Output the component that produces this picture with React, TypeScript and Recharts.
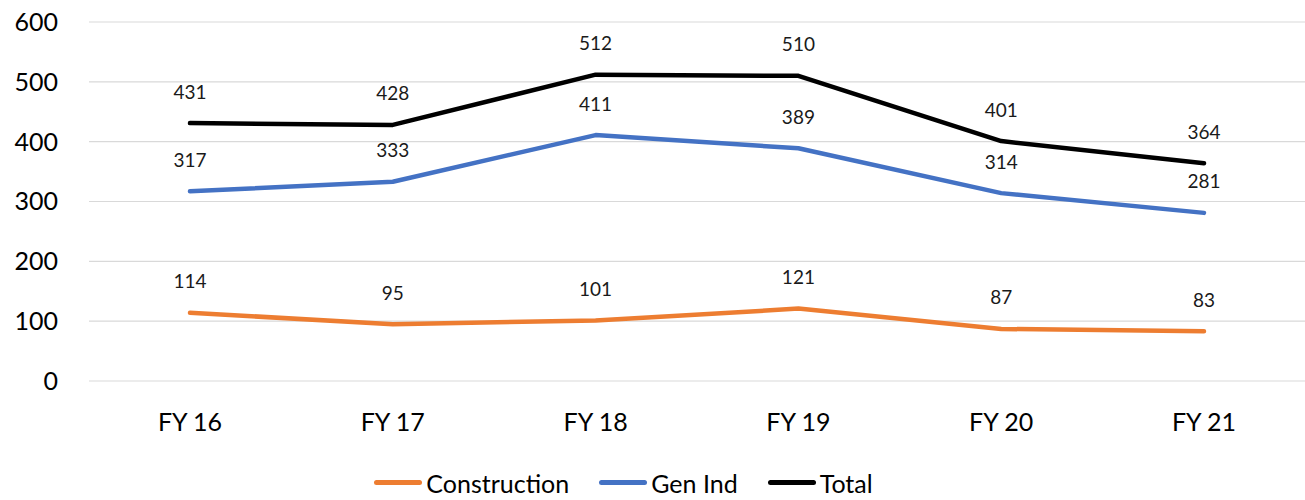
import { LineChart, Line, XAxis, YAxis, CartesianGrid, Legend, LabelList } from 'recharts';

const categories = ['FY 16', 'FY 17', 'FY 18', 'FY 19', 'FY 20', 'FY 21'];
const construction = [114, 95, 101, 121, 87, 83];
const genInd = [317, 333, 411, 389, 314, 281];
const total = [431, 428, 512, 510, 401, 364];
const yTicks = [0, 100, 200, 300, 400, 500, 600];

const SERIES = [
  { key: 'construction', name: 'Construction', color: '#ED7D31' },
  { key: 'genInd', name: 'Gen Ind', color: '#4472C4' },
  { key: 'total', name: 'Total', color: '#000000' },
];

const FONT = 'Lato, "Open Sans", sans-serif';

const data = categories.map((cat, i) => ({
  cat,
  construction: construction[i],
  genInd: genInd[i],
  total: total[i],
}));

// value label sitting above each point
const renderLabel = (props: any) => {
  const { x, y, value } = props;
  return (
    <text
      x={x}
      y={y - 32}
      textAnchor="middle"
      dominantBaseline="central"
      fontSize={19}
      fontFamily={FONT}
      fill="#1a1a1a"
    >
      {value}
    </text>
  );
};

const renderLegend = () => (
  <div
    style={{
      display: 'flex',
      justifyContent: 'center',
      alignItems: 'center',
      height: 59,
      paddingTop: 24,
      paddingRight: 58,
      boxSizing: 'border-box',
      fontFamily: FONT,
      fontSize: 25,
      color: '#000',
      gap: 30,
    }}
  >
    {SERIES.map((s) => (
      <div key={s.key} style={{ display: 'flex', alignItems: 'center', gap: 4 }}>
        <div style={{ width: 48, height: 5, borderRadius: 3, backgroundColor: s.color }} />
        <span>{s.name}</span>
      </div>
    ))}
  </div>
);

export default function App() {
  return (
    <div style={{ position: 'absolute', left: 0, top: 0 }}>
      <LineChart width={1305} height={500} data={data} margin={{ top: 22, right: 0, left: 0, bottom: 0 }}>
        <CartesianGrid vertical={false} stroke="#D9D9D9" strokeWidth={1.2} />
        <XAxis
          dataKey="cat"
          axisLine={false}
          tickLine={false}
          padding={{ left: 101, right: 101 }}
          height={60}
          tickMargin={26}
          tick={{ fontSize: 25, fill: '#000', fontFamily: FONT }}
        />
        <YAxis
          domain={[0, 600]}
          ticks={yTicks}
          width={89}
          axisLine={false}
          tickLine={false}
          tickMargin={25}
          tick={{ fontSize: 25, fill: '#000', fontFamily: FONT }}
        />
        <Legend verticalAlign="bottom" content={renderLegend} />
        {SERIES.map((s) => (
          <Line
            key={s.key}
            type="linear"
            dataKey={s.key}
            name={s.name}
            stroke={s.color}
            strokeWidth={4.5}
            strokeLinecap="round"
            strokeLinejoin="round"
            dot={false}
            activeDot={false}
            isAnimationActive={false}
          >
            <LabelList dataKey={s.key} content={renderLabel} />
          </Line>
        ))}
      </LineChart>
    </div>
  );
}
